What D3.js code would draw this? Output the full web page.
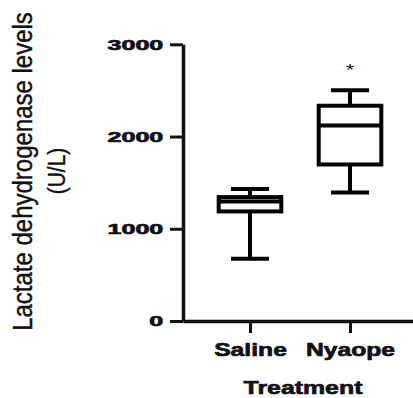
<!DOCTYPE html>
<html>
<head>
<meta charset="utf-8">
<script src="https://cdn.jsdelivr.net/npm/d3@7"></script>
<style>
  html, body { margin: 0; padding: 0; background: #fff; }
  svg { display: block; }
  text { font-family: "Liberation Sans", Arial, sans-serif; fill: #111; }
</style>
</head>
<body>
<svg id="chart" width="413" height="398"></svg>
<script>
// Box-plot summary per treatment group (LDH, U/L)
const categories  = ["Saline", "Nyaope"];
const whiskerLow  = [674, 1394];
const q1          = [1188, 1697];
const median      = [1296, 2120];
const q3          = [1343, 2334];
const whiskerHigh = [1430, 2502];
const yTicks      = [0, 1000, 2000, 3000];
const significance = ["", "*"];

const svg = d3.select("#chart");

const x = d3.scalePoint().domain(categories).range([183, 417]).padding(0.67);
const y = d3.scaleLinear().domain([0, 3000]).range([321, 44.3]);
const step = x.step();
const boxW = step * 0.626;
const capW = step * 0.38;
const lw = 4;

// heavy bold lettering for tick labels and axis title
const heavy = sel => sel.style("font-weight", "bold")
  .attr("stroke", "#111").attr("stroke-width", 0.7).attr("stroke-linejoin", "round");

// y axis
const yAxis = svg.append("g")
  .attr("transform", "translate(183,0)")
  .call(d3.axisLeft(y).tickValues(yTicks).tickSize(13).tickSizeOuter(0).tickFormat(d3.format("d")));
yAxis.select(".domain").attr("stroke", "#111").attr("stroke-width", 3.5);
yAxis.selectAll(".tick line").attr("stroke", "#111").attr("stroke-width", 3);
yAxis.selectAll(".tick text")
  .attr("x", 0)
  .attr("transform", "translate(-19.7,0) scale(1.62,1)")
  .style("font-size", "15.5px").attr("fill", "#111")
  .call(heavy);

// x axis
const xAxis = svg.append("g")
  .attr("transform", `translate(0,${y(0)})`)
  .call(d3.axisBottom(x).tickSize(12).tickSizeOuter(0).tickPadding(9.5));
xAxis.select(".domain").attr("stroke", "#111").attr("stroke-width", 3.5);
xAxis.selectAll(".tick line").attr("stroke", "#111").attr("stroke-width", 3);
xAxis.selectAll(".tick text")
  .attr("transform", "scale(1.3,1)")
  .style("font-size", "19px").attr("fill", "#111")
  .call(heavy);

// boxes
const rows = categories.map((c, i) => ({
  c, lo: whiskerLow[i], q1: q1[i], med: median[i], q3: q3[i], hi: whiskerHigh[i], sig: significance[i]
}));

const g = svg.append("g").attr("stroke", "#000").attr("stroke-width", lw).attr("fill", "none");
rows.forEach(r => {
  const cx = x(r.c);
  // whisker stems
  g.append("line").attr("x1", cx).attr("x2", cx).attr("y1", y(r.lo)).attr("y2", y(r.q1));
  g.append("line").attr("x1", cx).attr("x2", cx).attr("y1", y(r.q3)).attr("y2", y(r.hi));
  // caps
  g.append("line").attr("x1", cx - capW / 2).attr("x2", cx + capW / 2).attr("y1", y(r.lo)).attr("y2", y(r.lo));
  g.append("line").attr("x1", cx - capW / 2).attr("x2", cx + capW / 2).attr("y1", y(r.hi)).attr("y2", y(r.hi));
  // box
  g.append("rect").attr("x", cx - boxW / 2).attr("width", boxW)
    .attr("y", y(r.q3)).attr("height", y(r.q1) - y(r.q3)).attr("fill", "#fff");
  // median
  g.append("line").attr("x1", cx - boxW / 2).attr("x2", cx + boxW / 2).attr("y1", y(r.med)).attr("y2", y(r.med));
  // significance marker
  if (r.sig) {
    svg.append("text")
      .attr("transform", `translate(${cx},${y(r.hi) - 14}) scale(1.3,1)`)
      .attr("text-anchor", "middle")
      .style("font-size", "17px").attr("fill", "#666")
      .text(r.sig);
  }
});

// axis titles
svg.append("text")
  .attr("transform", "translate(303,394) scale(1.31,1)")
  .attr("text-anchor", "middle")
  .style("font-size", "19px")
  .call(heavy)
  .text("Treatment");

svg.append("text")
  .attr("transform", "translate(31.7,171.5) scale(1.14,1) rotate(-90)")
  .attr("text-anchor", "middle")
  .style("font-size", "24px")
  .attr("stroke", "#111").attr("stroke-width", 0.35)
  .text("Lactate dehydrogenase levels");

svg.append("text")
  .attr("transform", "translate(65,171) scale(1.11,1) rotate(-90)")
  .attr("text-anchor", "middle")
  .style("font-size", "21px")
  .attr("stroke", "#111").attr("stroke-width", 0.35)
  .text("(U/L)");
</script>
</body>
</html>
